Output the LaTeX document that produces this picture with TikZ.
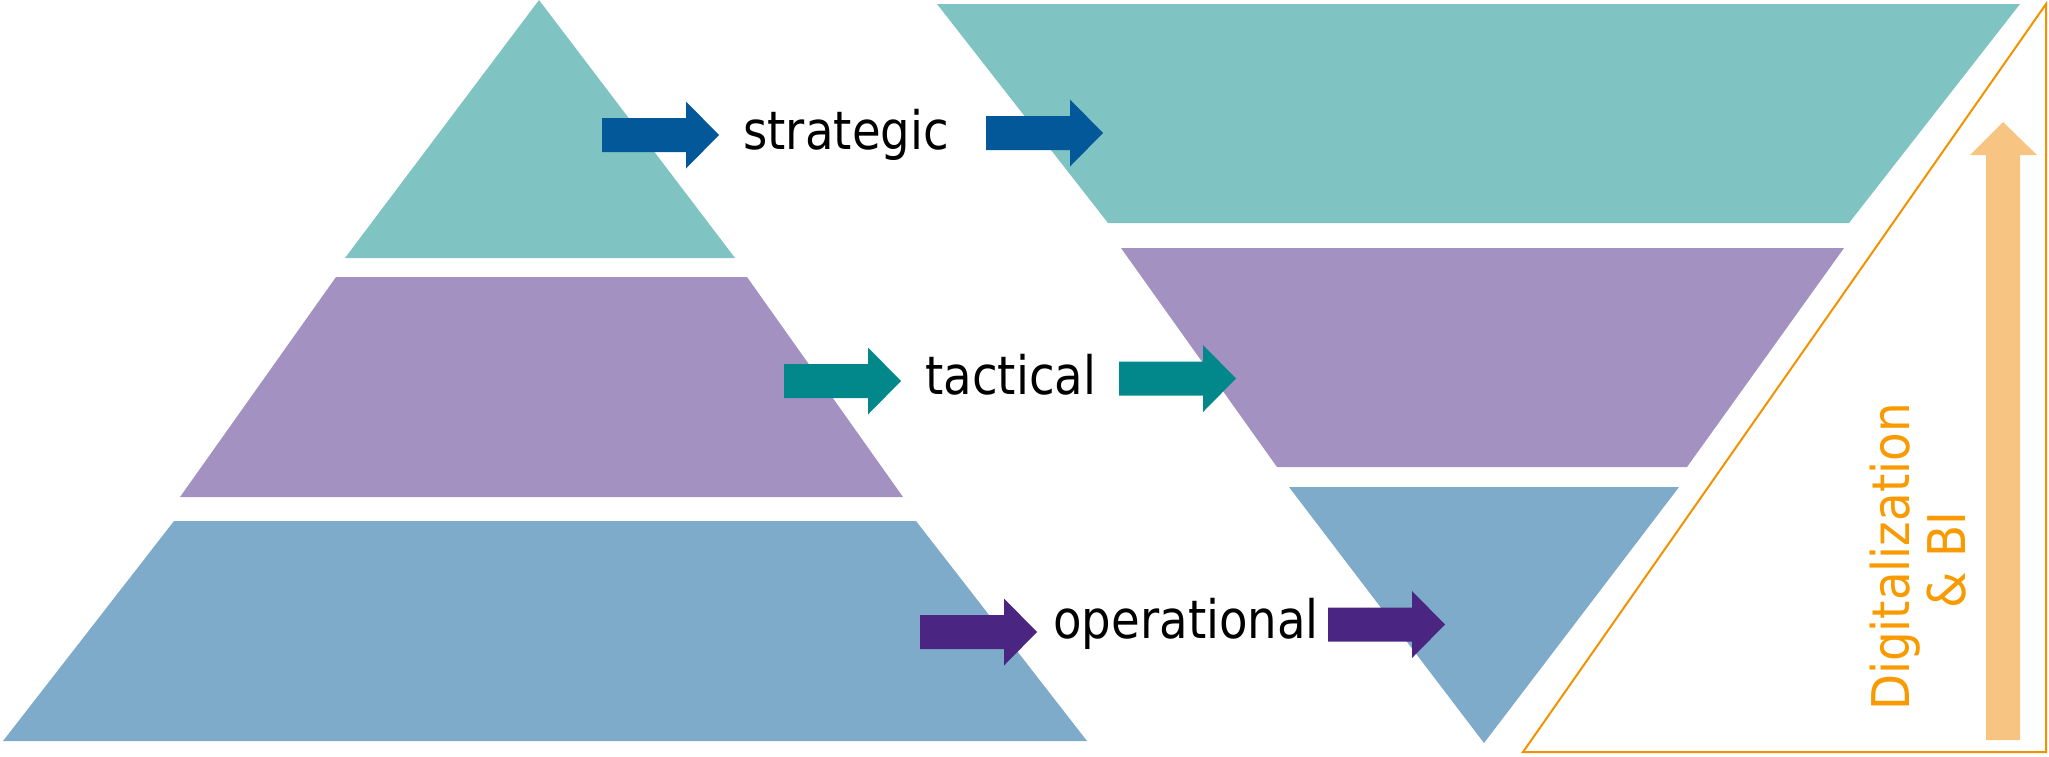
\documentclass[tikz,border=0pt]{standalone}
\usepackage{fontspec}
\newfontfamily\labfont[FakeStretch=0.88]{DejaVu Sans}
\newfontfamily\orfont[FakeStretch=0.9]{DejaVu Sans}
\definecolor{lteal}{HTML}{80C3C3}
\definecolor{lpurple}{HTML}{A391C1}
\definecolor{lblue}{HTML}{7FABCB}
\definecolor{astrat}{HTML}{025899}
\definecolor{atact}{HTML}{02888A}
\definecolor{aoper}{HTML}{4A2682}
\definecolor{oline}{HTML}{F39200}
\definecolor{otext}{HTML}{F89A00}
\definecolor{oarrow}{HTML}{F7C482}
\tikzset{
  layer/.style={fill=#1, draw=none},
  lab/.style={inner sep=0pt, anchor=base west, font=\labfont\fontsize{26.5}{32}\selectfont},
  orlab/.style={inner sep=0pt, anchor=base, rotate=90, text=otext, font=\orfont\fontsize{26}{31}\selectfont},
  barrow/.pic={\fill[pic actions] (0,-17) -- (84,-17) -- (84,-33.5) -- (117,0) -- (84,33.5) -- (84,17) -- (0,17) -- cycle;}
}
\begin{document}
\begin{tikzpicture}[x=0.5pt,y=-0.5pt]
\useasboundingbox (0,0) rectangle (2049,756);
% left pyramid
\fill[layer=lteal] (539,0) -- (345,258) -- (735,258) -- cycle;
\fill[layer=lpurple] (336,277) -- (747,277) -- (903,497) -- (180,497) -- cycle;
\fill[layer=lblue] (174,521) -- (916,521) -- (1087,741) -- (3,741) -- cycle;
% right inverted pyramid
\fill[layer=lteal] (937,4) -- (2020,4) -- (1849,223) -- (1108,223) -- cycle;
\fill[layer=lpurple] (1121,248) -- (1844,248) -- (1687,467) -- (1277,467) -- cycle;
\fill[layer=lblue] (1289,487) -- (1679,487) -- (1484,743) -- cycle;
% orange triangle
\draw[oline, line width=1pt, line join=miter] (1523,752) -- (2046,4) -- (2046,752) -- cycle;
% orange arrow
\fill[oarrow] (1986,740) -- (1986,155) -- (1970,155) -- (2003,122) -- (2037,155) -- (2020,155) -- (2020,740) -- cycle;
% block arrows
\pic[fill=astrat] at (602,135) {barrow};
\pic[fill=astrat] at (986,133) {barrow};
\pic[fill=atact] at (784,381) {barrow};
\pic[fill=atact] at (1119,378.5) {barrow};
\pic[fill=aoper] at (920,632) {barrow};
\pic[fill=aoper] at (1328,624.5) {barrow};
% labels
\node[lab] (strat) at (743,149) {strategic};
\node[lab] (tact) at (925,394) {tactical};
\node[lab] (oper) at (1053,638) {operational};
\node[orlab] (dig) at (1909,557) {Digitalization};
\node[orlab] (bi) at (1965,560) {\&\ BI};
\end{tikzpicture}
\end{document}
